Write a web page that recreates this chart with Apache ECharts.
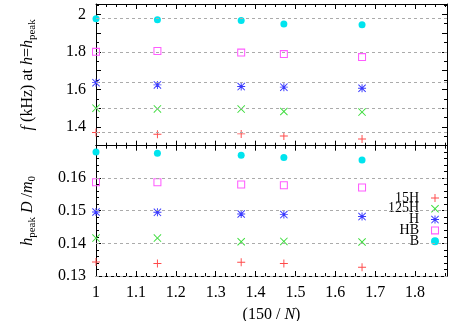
<!DOCTYPE html>
<html><head><meta charset="utf-8">
<script src="https://cdn.jsdelivr.net/npm/echarts@6/dist/echarts.min.js"></script>
<style>html,body{margin:0;padding:0;background:#fff}#c{width:458px;height:321px}</style>
</head><body><div id="c"></div>
<script>
// x = 150 / N
const xVals = [1.0, 1.154, 1.364, 1.471, 1.667];
const seriesNames = ['15H', '125H', 'H', 'HB', 'B'];
// f (kHz) at h = h_peak
const f15H  = [1.370, 1.361, 1.363, 1.352, 1.336];
const f125H = [1.500, 1.496, 1.495, 1.482, 1.479];
const fH    = [1.636, 1.624, 1.615, 1.612, 1.606];
const fHB   = [1.800, 1.805, 1.796, 1.788, 1.772];
const fB    = [1.976, 1.971, 1.967, 1.949, 1.945];
// h_peak D / m0
const h15H  = [0.1343, 0.1338, 0.1342, 0.1338, 0.1327];
const h125H = [0.1416, 0.1416, 0.1405, 0.1406, 0.1404];
const hH    = [0.1496, 0.1495, 0.1490, 0.1488, 0.1482];
const hHB   = [0.1587, 0.1587, 0.1580, 0.1578, 0.1571];
const hB    = [0.1680, 0.1676, 0.1670, 0.1663, 0.1655];
const xTickLabels = ['1', '1.1', '1.2', '1.3', '1.4', '1.5', '1.6', '1.7', '1.8'];
const yTopTickLabels = ['1.4', '1.6', '1.8', '2'];
const yBotTickLabels = ['0.13', '0.14', '0.15', '0.16'];

const topData = [f15H, f125H, fH, fHB, fB];
const botData = [h15H, h125H, hH, hHB, hB];

const FONT = 'Liberation Serif';
const colors = ['#ff4a4a', '#3ddd3d', '#3a3aff', '#ff5cff', '#00e4ee'];
const symbols = [
  'path://M4.4,0H5.6V4.4H10V5.6H5.6V10H4.4V5.6H0V4.4H4.4Z',
  'path://M0,0.85L0.85,0L5,4.15L9.15,0L10,0.85L5.85,5L10,9.15L9.15,10L5,5.85L0.85,10L0,9.15L4.15,5Z',
  'path://M4.4,0H5.6V4.4H10V5.6H5.6V10H4.4V5.6H0V4.4H4.4Z M0,0.85L0.85,0L5,4.15L9.15,0L10,0.85L5.85,5L10,9.15L9.15,10L5,5.85L0.85,10L0,9.15L4.15,5Z',
  'path://M0,0H10V10H0Z M1.3,1.3V8.7H8.7V1.3Z',
  'circle'
];
const sizes = [8, 8, 8, 8, 7];

function pick(labels) {
  return function (v) {
    for (const l of labels) if (Math.abs(parseFloat(l) - v) < 1e-6) return l;
    return '';
  };
}
const lineBlack = { show: true, lineStyle: { color: '#000', width: 1 } };
const rich = {
  i: { fontFamily: FONT, fontStyle: 'italic', fontSize: 16, color: '#000', lineHeight: 20 },
  n: { fontFamily: FONT, fontSize: 16, color: '#000', lineHeight: 20 },
  sub: { fontFamily: FONT, fontSize: 11, color: '#000', lineHeight: 20, verticalAlign: 'bottom' }
};
function xAx(grid, pos, labels) {
  return {
    type: 'value', gridIndex: grid, position: pos, min: 1, max: 1.88, interval: 0.1,
    axisLine: lineBlack,
    axisTick: { show: true, inside: true, length: 5, lineStyle: { color: '#000' } },
    minorTick: { show: true, splitNumber: 4, length: 3, lineStyle: { color: '#000' } },
    splitLine: { show: false },
    axisLabel: labels ? { show: true, formatter: pick(xTickLabels), fontFamily: FONT, fontSize: 16, color: '#000', margin: 9 } : { show: false }
  };
}
function yAx(grid, pos, min, max, interval, split, labels, name) {
  const o = {
    type: 'value', gridIndex: grid, position: pos, min: min, max: max, interval: interval,
    axisLine: lineBlack,
    axisTick: { show: true, inside: true, length: 5, lineStyle: { color: '#000' } },
    minorTick: { show: true, splitNumber: split, length: 3, lineStyle: { color: '#000' } },
    splitLine: { show: false },
    axisLabel: labels ? { show: true, formatter: pick(labels), fontFamily: FONT, fontSize: 16, color: '#000', margin: 10 } : { show: false }
  };
  if (name) {
    o.name = name; o.nameLocation = 'middle'; o.nameGap = 58; o.nameRotate = 90;
    o.nameTextStyle = { rich: rich, fontFamily: FONT, fontSize: 16, color: '#000' };
  }
  return o;
}

const series = [];
seriesNames.forEach((nm, k) => {
  [[topData[k], 0, 0], [botData[k], 2, 2]].forEach(([vals, xi, yi]) => {
    series.push({
      type: 'scatter', name: nm, xAxisIndex: xi, yAxisIndex: yi,
      data: xVals.map((x, j) => [x, vals[j]]),
      symbol: symbols[k], symbolSize: sizes[k], clip: false,
      itemStyle: { color: colors[k], opacity: 1 },
      markLine: {
        silent: true, symbol: 'none', label: { show: false },
        lineStyle: { color: '#ababab', type: [3, 3], width: 1 },
        data: [{ yAxis: vals[0] }], animation: false
      },
      animation: false
    });
  });
});

const chart = echarts.init(document.getElementById('c'));
chart.setOption({
  animation: false,
  backgroundColor: '#fff',
  grid: [
    { left: 96, right: 11, top: 4, bottom: 175.3, outerBoundsMode: 'none', containLabel: false },
    { left: 96, right: 11, top: 145.7, bottom: 45, outerBoundsMode: 'none', containLabel: false }
  ],
  xAxis: [
    xAx(0, 'bottom', false),
    xAx(0, 'top', false),
    Object.assign(xAx(1, 'bottom', true), {
      name: '(150 / {i|N})', nameLocation: 'middle', nameGap: 29,
      nameTextStyle: { rich: rich, fontFamily: FONT, fontSize: 16, color: '#000' }
    }),
    xAx(1, 'top', false)
  ],
  yAxis: [
    yAx(0, 'left', 1.3, 2.055, 0.1, 2, yTopTickLabels, '{i|f} (kHz) at {i|h}={i|h}{sub|peak}'),
    yAx(0, 'right', 1.3, 2.055, 0.1, 2, null, null),
    yAx(1, 'left', 0.13, 0.1699, 0.01, 5, yBotTickLabels, '{i|h}{sub|peak} {i|D} /{i|m}{sub|0}'),
    yAx(1, 'right', 0.13, 0.1699, 0.01, 5, null, null)
  ],
  legend: {
    data: seriesNames, orient: 'vertical', right: 19, top: 191, align: 'right', padding: 0,
    itemWidth: 8, itemHeight: 8, itemGap: -3.2, selectedMode: false,
    textStyle: { fontFamily: FONT, fontSize: 14, color: '#000', lineHeight: 11, padding: [0, 7, 0, 0] }
  },
  series: series
});
</script></body></html>
